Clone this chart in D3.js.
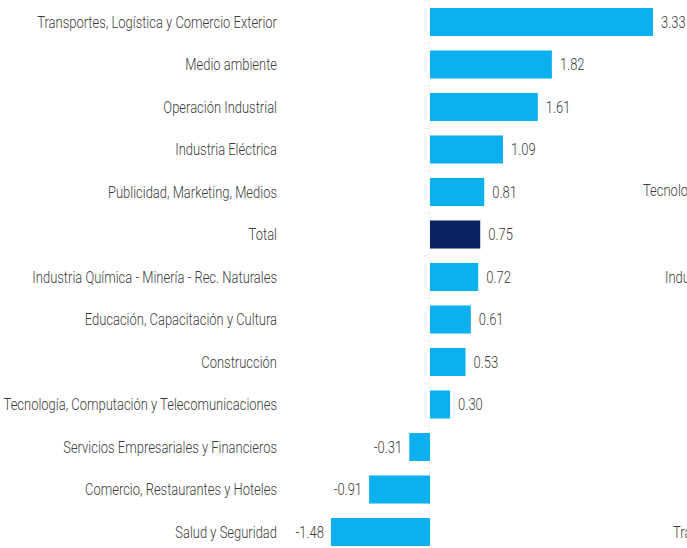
<!DOCTYPE html>
<html>
<head>
<meta charset="utf-8">
<script src="https://cdn.jsdelivr.net/npm/d3@7"></script>
<style>
  body { margin: 0; background: #fff; }
  svg { display: block; }
  text { font-family: Roboto, "Liberation Sans", sans-serif; font-weight: 300; fill: #3c3c3c; }
</style>
</head>
<body>
<svg id="chart" width="687" height="548"></svg>
<script>
const categories = [
  "Transportes, Logística y Comercio Exterior",
  "Medio ambiente",
  "Operación Industrial",
  "Industria Eléctrica",
  "Publicidad, Marketing, Medios",
  "Total",
  "Industria Química - Minería - Rec. Naturales",
  "Educación, Capacitación y Cultura",
  "Construcción",
  "Tecnología, Computación y Telecomunicaciones",
  "Servicios Empresariales y Financieros",
  "Comercio, Restaurantes y Hoteles",
  "Salud y Seguridad"
];
const values = [3.33, 1.82, 1.61, 1.09, 0.81, 0.75, 0.72, 0.61, 0.53, 0.30, -0.31, -0.91, -1.48];
// labels of the next chart, cut off at the right edge
const nextChartLabels = ["Tecnología, Computación y Telecomunicaciones", "Industria Química - Minería - Rec. Naturales", "Transportes, Logística y Comercio Exterior"];

const width = 687, height = 548;
const svg = d3.select("#chart");
const fontSize = "16.5px";

let x = d3.scaleLinear().domain([0, 3.33]).range([430, 653]);
let y = d3.scaleBand()
  .domain(categories)
  .range([0.75, 553.25])
  .paddingInner(0.34)
  .paddingOuter(0.17);

// squeeze text to look like the condensed face of the original
let probe = svg.append("text").style("font-size", fontSize).text(categories[0]);
let k = 240 / probe.node().getComputedTextLength();
probe.remove();

// faint axis at zero
svg.append("line")
  .attr("x1", x(0) - 0.5).attr("x2", x(0) - 0.5)
  .attr("y1", 0).attr("y2", height)
  .attr("stroke", "#f2f2f2");

svg.selectAll(".tick")
  .data(categories)
  .enter().append("line")
  .attr("x1", x(0) - 6).attr("x2", x(0))
  .attr("y1", d => y(d) - y.step() * y.paddingInner() / 2)
  .attr("y2", d => y(d) - y.step() * y.paddingInner() / 2)
  .attr("stroke", "#ececec");

svg.selectAll(".bar")
  .data(values)
  .enter().append("rect")
  .attr("x", d => x(Math.min(0, d)))
  .attr("y", (d, i) => y(categories[i]))
  .attr("width", d => Math.abs(x(d) - x(0)))
  .attr("height", y.bandwidth())
  .attr("fill", (d, i) => categories[i] == "Total" ? "#0b2160" : "#0cb0ef");

svg.selectAll(".cat")
  .data(categories)
  .enter().append("text")
  .attr("transform", d => `translate(277,${y(d) + y.bandwidth() / 2}) scale(${k},1)`)
  .attr("dy", "0.36em")
  .attr("text-anchor", "end")
  .style("font-size", fontSize)
  .text(d => d);

svg.selectAll(".val")
  .data(values)
  .enter().append("text")
  .attr("transform", (d, i) => `translate(${d >= 0 ? x(d) + 8 : x(d) - 7},${y(categories[i]) + y.bandwidth() / 2}) scale(${k},1)`)
  .attr("dy", "0.36em")
  .attr("text-anchor", d => d >= 0 ? "start" : "end")
  .style("font-size", fontSize)
  .text(d => d.toFixed(2));

// partial labels of the neighbouring chart
let ghostX = [643, 665, 673];
let ghostY = [190, 277, 532];
svg.selectAll(".ghost")
  .data(nextChartLabels)
  .enter().append("text")
  .attr("transform", (d, i) => `translate(${ghostX[i]},${ghostY[i]}) scale(${k},1)`)
  .attr("dy", "0.36em")
  .style("font-size", fontSize)
  .text(d => d);
</script>
</body>
</html>
